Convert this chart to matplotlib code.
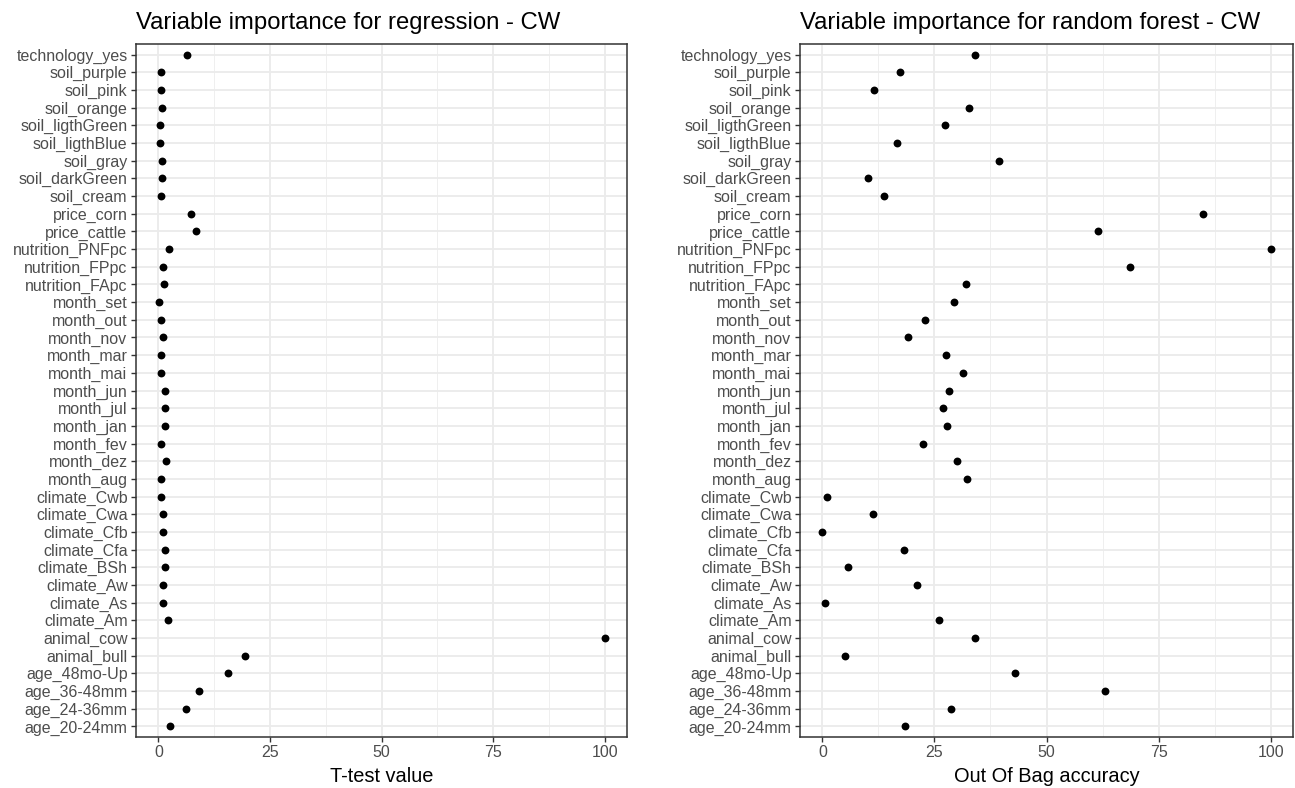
import matplotlib
matplotlib.use("Agg")
import matplotlib.pyplot as plt
from matplotlib.ticker import MultipleLocator

variables = ["technology_yes", "soil_purple", "soil_pink", "soil_orange", "soil_ligthGreen",
             "soil_ligthBlue", "soil_gray", "soil_darkGreen", "soil_cream", "price_corn",
             "price_cattle", "nutrition_PNFpc", "nutrition_FPpc", "nutrition_FApc", "month_set",
             "month_out", "month_nov", "month_mar", "month_mai", "month_jun", "month_jul",
             "month_jan", "month_fev", "month_dez", "month_aug", "climate_Cwb", "climate_Cwa",
             "climate_Cfb", "climate_Cfa", "climate_BSh", "climate_Aw", "climate_As", "climate_Am",
             "animal_cow", "animal_bull", "age_48mo-Up", "age_36-48mm", "age_24-36mm", "age_20-24mm"]

regression_ttest = [6.5, 0.7, 0.6, 0.9, 0.3, 0.4, 0.9, 0.9, 0.7, 7.4,
                    8.5, 2.4, 1.0, 1.2, 0.15, 0.6, 1.0, 0.6, 0.7, 1.6,
                    1.5, 1.6, 0.7, 1.7, 0.7, 0.5, 1.1, 1.0, 1.5, 1.4,
                    1.0, 1.0, 2.2, 100.0, 19.5, 15.7, 9.2, 6.2, 2.7]

rf_oob = [34.1, 17.3, 11.6, 32.7, 27.3, 16.6, 39.4, 10.2, 13.8, 85.0,
          61.4, 100.0, 68.6, 32.0, 29.4, 22.8, 19.2, 27.5, 31.3, 28.2,
          27.0, 27.7, 22.4, 30.1, 32.2, 1.0, 11.2, 0.0, 18.2, 5.6,
          21.0, 0.6, 26.0, 34.0, 5.1, 42.9, 63.0, 28.7, 18.5]

x_ticks = [0, 25, 50, 75, 100]

plt.rcParams['font.family'] = ['Liberation Sans', 'DejaVu Sans']

W, H = 1295, 788
fig = plt.figure(figsize=(W / 100, H / 100), dpi=100)

panels = [
    (regression_ttest, "Variable importance for regression - CW", "T-test value", 136, 627),
    (rf_oob, "Variable importance for random forest - CW", "Out Of Bag accuracy", 800, 1293),
]
top_px, bot_px = 44, 737

n = len(variables)
ypos = list(range(n, 0, -1))

for vals, title, xlabel, x0, x1 in panels:
    ax = fig.add_axes([x0 / W, 1 - bot_px / H, (x1 - x0) / W, (bot_px - top_px) / H])
    ax.set_facecolor("white")
    ax.scatter(vals, ypos, s=32, color="black", zorder=3, linewidths=0)
    ax.set_xlim(-5, 105)
    ax.set_ylim(1 - 0.6, n + 0.6)
    ax.set_yticks(ypos)
    ax.set_yticklabels(variables)
    ax.set_xticks(x_ticks)
    ax.xaxis.set_minor_locator(MultipleLocator(12.5))
    ax.grid(True, which="major", color="#EBEBEB", linewidth=1.3, zorder=0)
    ax.grid(True, which="minor", axis="x", color="#EFEFEF", linewidth=0.7, zorder=0)
    ax.set_axisbelow(True)
    for sp in ax.spines.values():
        sp.set_color("#333333")
        sp.set_linewidth(1.1)
    ax.tick_params(axis="both", which="major", length=3.6, width=1.0, color="#333333",
                   labelcolor="#4D4D4D", labelsize=11.5, pad=2.5)
    ax.tick_params(axis="x", which="minor", length=0)
    ax.set_title(title, fontsize=17.2, color="black", pad=11, loc="left")
    ax.set_xlabel(xlabel, fontsize=14.4, color="black", labelpad=4.5)

fig.savefig("out.png", dpi=100, facecolor="white")
